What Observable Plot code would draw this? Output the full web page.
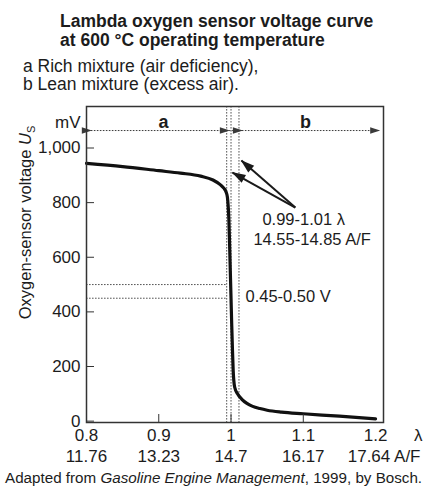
<!DOCTYPE html>
<html>
<head>
<meta charset="utf-8">
<script src="https://cdn.jsdelivr.net/npm/d3@7"></script>
<script src="https://cdn.jsdelivr.net/npm/@observablehq/plot@0.6"></script>
<style>
  html, body { margin: 0; padding: 0; background: #fff; }
  body { width: 431px; height: 502px; position: relative; overflow: hidden;
         font-family: "Liberation Sans", Arial, Helvetica, sans-serif; color: #1c1c1c; }
  #title { position: absolute; left: 60px; top: 12px; font-size: 17.5px; font-weight: bold; line-height: 19px; white-space: nowrap; }
  #sub { position: absolute; left: 23px; top: 57px; font-size: 17.5px; line-height: 18px; white-space: nowrap; }
  #chart { position: absolute; left: 0; top: 96px; }
  #cap { position: absolute; left: 5px; top: 470px; font-size: 15.2px; line-height: 16px; white-space: nowrap; }
</style>
</head>
<body>
<div id="title">Lambda oxygen sensor voltage curve<br>at 600 °C operating temperature</div>
<div id="sub">a Rich mixture (air deficiency),<br>b Lean mixture (excess air).</div>
<div id="chart"></div>
<div id="cap">Adapted from <i>Gasoline Engine Management</i>, 1999, by Bosch.</div>
<script>
// ---- data ----
const lambda  = [0.800,0.850,0.900,0.930,0.958,0.975,0.985,0.990,0.993,0.995,0.996,0.997,0.998,0.999,1.000,1.001,1.002,1.003,1.005,1.009,1.015,1.022,1.030,1.040,1.050,1.070,1.100,1.150,1.200];
const voltage = [944,932,917,908,897,883,866,853,840,820,790,740,650,550,450,350,260,185,125,100,80,65,54,46,40,33,27,18,8];

const xTicks = [0.8, 0.9, 1, 1.1, 1.2];
const lambdaLabels = ["0.8", "0.9", "1", "1.1", "1.2"];
const afLabels = ["11.76", "13.23", "14.7", "16.17", "17.64"];
const yTicks = [0, 200, 400, 600, 800, 1000];

const windowLambda = [0.994, 1.0, 1.011];   // dotted verticals (0.99-1.01 λ band)
const windowVoltage = [450, 500];           // 0.45-0.50 V band

const regionNames = ["a", "b"];
const regionFrom = [0.806, 1.015];
const regionTo = [0.997, 1.205];
const regionLabelLambda = [0.9065, 1.103];
const regionLevel = 1064;
const regionLabelLevel = 1094;

const annotTargetLambda = [1.002, 1.0144];
const annotTargetVoltage = [910, 954];
const annotSourceLambda = 1.089;
const annotSourceVoltage = 782;

const annotTexts = ["0.99-1.01 λ", "14.55-14.85 A/F", "0.45-0.50 V"];
const annotTextLambda = [1.0434, 1.031, 1.020];
const annotTextVoltage = [738, 665, 456];

// ---- tables built from the arrays ----
const curve = lambda.map((x, i) => ({lambda: x, mV: voltage[i]}));
const regions = regionNames.map((n, i) => ({name: n, x1: regionFrom[i], x2: regionTo[i], xl: regionLabelLambda[i]}));
const annots = annotTargetLambda.map((x, i) => ({x1: annotSourceLambda, y1: annotSourceVoltage, x2: x, y2: annotTargetVoltage[i]}));
const notes = annotTexts.map((t, i) => ({t, x: annotTextLambda[i], y: annotTextVoltage[i]}));
const xTickRows = xTicks.map((x, i) => ({x, l: lambdaLabels[i], af: afLabels[i]}));

const ink = "#1c1c1c";
const dotted = {stroke: "#555", strokeWidth: 1, strokeDasharray: "1.6,1.4"};

const chart = Plot.plot({
  width: 431,
  height: 380,
  marginLeft: 86,
  marginRight: 48,
  marginTop: 10,
  marginBottom: 54,
  x: {domain: [0.8, 1.211]},
  y: {domain: [-5, 1152]},
  style: {fontFamily: "'Liberation Sans', Arial, sans-serif", fontSize: "17px", color: ink, background: "#fff", overflow: "visible"},
  marks: [
    Plot.ruleX(windowLambda, {x: d => d, ...dotted}),
    Plot.ruleY(windowVoltage, {y: d => d, x1: 0.8, x2: windowLambda[0], ...dotted}),
    // region arrows a / b
    Plot.link([{x1: regionTo[0], x2: regionFrom[1]}], {x1: "x1", x2: "x2", y1: regionLevel, y2: regionLevel, ...dotted}),
    Plot.link(regions, {x1: "x1", x2: "x2", y1: regionLevel, y2: regionLevel, stroke: "#3a3a3a", strokeWidth: 1, strokeDasharray: "1.6,1.4", markerStart: "arrow", markerEnd: "arrow"}),
    Plot.text(regions, {x: "xl", y: regionLabelLevel, text: "name", fontSize: 18, fontWeight: "bold", fill: ink}),
    // voltage curve
    Plot.line(curve, {x: "lambda", y: "mV", stroke: "#111", strokeWidth: 3.2, curve: "monotone-x", strokeLinejoin: "round"}),
    // annotation arrows
    Plot.link(annots, {x1: "x1", y1: "y1", x2: "x2", y2: "y2", stroke: "#1a1a1a", strokeWidth: 2, markerEnd: "arrow"}),
    Plot.text(notes, {x: "x", y: "y", text: "t", textAnchor: "start", fontSize: 16.5, fill: ink}),
    Plot.frame({stroke: "#333", strokeWidth: 1.5}),
    // axes
    Plot.axisY({ticks: yTicks, tickSize: -8, tickPadding: 14, fontSize: 17, label: null, stroke: "#333"}),
    Plot.axisX({ticks: [0.9, 1, 1.1], tickSize: -8, tickFormat: () => "", label: null, stroke: "#333"}),
    Plot.text(xTickRows, {x: "x", text: "l", frameAnchor: "bottom", dy: 18, fontSize: 17, fill: ink}),
    Plot.text(xTickRows.slice(0, 4), {x: "x", text: "af", frameAnchor: "bottom", dy: 39, fontSize: 17, fill: ink}),
    Plot.text([afLabels[4] + " A/F"], {text: d => d, frameAnchor: "bottom-right", textAnchor: "end", dx: 37, dy: 39, fontSize: 17, fill: ink}),
    Plot.text(["λ"], {text: d => d, frameAnchor: "bottom-right", dx: 39, dy: 18, fontSize: 17, fill: ink}),
    Plot.text(["mV"], {text: d => d, frameAnchor: "top-left", textAnchor: "end", dx: -6, dy: 9, fontSize: 17, fill: ink}),
    Plot.text(["Oxygen-sensor voltage US"], {text: d => d, frameAnchor: "left", textAnchor: "middle", rotate: -90, dx: -61, dy: -42, fontSize: 16.5, fill: ink})
  ]
});

// filled arrowheads
chart.querySelectorAll("marker").forEach(m => {
  const big = m.getAttribute("stroke") === "#1a1a1a";
  const col = m.getAttribute("stroke");
  m.setAttribute("markerUnits", "userSpaceOnUse");
  m.setAttribute("fill", col);
  m.setAttribute("stroke", "none");
  m.setAttribute("stroke-dasharray", "none");
  if (big) {
    m.setAttribute("viewBox", "-14 -6 16 12");
    m.setAttribute("markerWidth", 16);
    m.setAttribute("markerHeight", 12);
  } else {
    m.setAttribute("viewBox", "-10 -5 12 10");
    m.setAttribute("markerWidth", 12);
    m.setAttribute("markerHeight", 10);
  }
  const p = m.querySelector("path");
  p.setAttribute("d", big ? "M-13,-4.5L1,0L-13,4.5Z" : "M-9,-3.2L1,0L-9,3.2Z");
  p.setAttribute("stroke", "none");
  p.setAttribute("fill", col);
  p.setAttribute("stroke-dasharray", "none");
});

// italic U with subscript S on the y label
chart.querySelectorAll("text").forEach(t => {
  if (t.textContent === "Oxygen-sensor voltage US") {
    t.textContent = "Oxygen-sensor voltage ";
    const ns = "http://www.w3.org/2000/svg";
    const u = document.createElementNS(ns, "tspan");
    u.setAttribute("font-style", "italic");
    u.textContent = "U";
    const s = document.createElementNS(ns, "tspan");
    s.setAttribute("font-size", "11");
    s.setAttribute("dy", "4");
    s.textContent = "S";
    t.appendChild(u);
    t.appendChild(s);
  }
});

document.getElementById("chart").appendChild(chart);
</script>
</body>
</html>
